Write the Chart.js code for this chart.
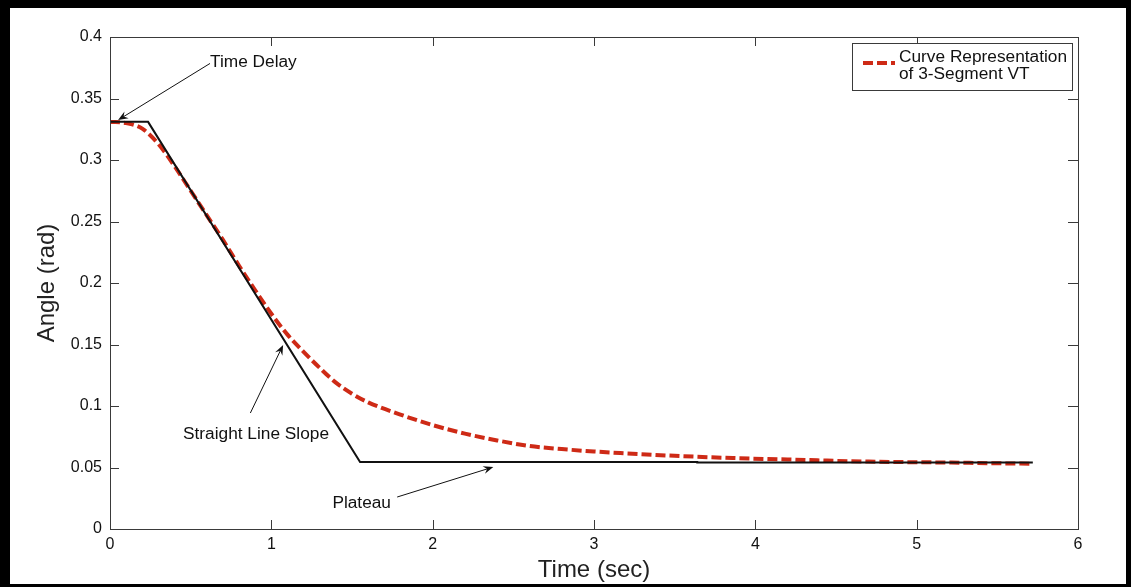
<!DOCTYPE html>
<html>
<head>
<meta charset="utf-8">
<script src="https://cdn.jsdelivr.net/npm/chart.js@4.4.1/dist/chart.umd.min.js"></script>
<style>
    html, body { margin: 0; padding: 0; background: #000; overflow: hidden; }
    #cadre { position: absolute; left: 10px; top: 8px; width: 1116px; height: 576px; background: #fff; }
    #graphique { position: absolute; left: 0; top: 0; }
</style>
</head>
<body>
<div id="cadre"></div>
<canvas id="graphique" width="1131" height="587"></canvas>
<script>
// segments de la VT (ligne noire)
const tempsSegments = [0, 0.236, 1.55, 3.64, 3.64, 5.72];
const angleSegments = [0.331, 0.331, 0.0545, 0.0545, 0.054, 0.054];

// courbe rouge en pointillés
const tempsCourbe = [0, 0.1, 0.2, 0.3, 0.4, 0.5, 0.6, 0.7, 0.8, 0.9, 1.0, 1.1, 1.2, 1.3, 1.4, 1.5, 1.6, 1.8, 2.0, 2.2, 2.4, 2.6, 2.8, 3.0, 3.2, 3.5, 3.86, 4.2, 4.7, 5.2, 5.72];
const angleCourbe = [0.331, 0.330, 0.3255, 0.313, 0.295, 0.275, 0.255, 0.235, 0.214, 0.194, 0.175, 0.158, 0.144, 0.131, 0.119, 0.110, 0.103, 0.093, 0.0845, 0.0775, 0.072, 0.0675, 0.065, 0.063, 0.0615, 0.0595, 0.0577, 0.0565, 0.0548, 0.054, 0.053];

const ticksX = [0, 1, 2, 3, 4, 5, 6];
const ticksY = [0, 0.05, 0.1, 0.15, 0.2, 0.25, 0.3, 0.35, 0.4];
const labelsY = ['0', '0.05', '0.1', '0.15', '0.2', '0.25', '0.3', '0.35', '0.4'];

const legende = ['Curve Representation', 'of 3-Segment VT'];

// annotations : texte + flèche (coordonnées en unités des axes)
const annotations = [
    { texte: 'Time Delay', tx: 0.62, ty: 0.3795, align: 'left', queue: [0.62, 0.3785], pointe: [0.05, 0.3325] },
    { texte: 'Straight Line Slope', tx: 0.905, ty: 0.0765, align: 'center', queue: [0.87, 0.0943], pointe: [1.073, 0.1496] },
    { texte: 'Plateau', tx: 1.56, ty: 0.0205, align: 'center', queue: [1.78, 0.026], pointe: [2.376, 0.0504] },
];

const rouge = 'rgb(206, 42, 22)';
const tiretRouge = [10, 4];
const couleurAxe = '#3a3a3a';
const police = { family: '"Liberation Sans", Arial, sans-serif' };

function texteEtire(ctx, texte, x, y, align) {
    const sx = 1.08;
    ctx.save();
    ctx.font = '16px "Liberation Sans", Arial, sans-serif';
    ctx.fillStyle = '#111';
    ctx.textBaseline = 'middle';
    const w = ctx.measureText(texte).width * sx;
    let x0 = x;
    if (align === 'center') x0 = x - w / 2;
    if (align === 'right') x0 = x - w;
    ctx.translate(x0, y);
    ctx.scale(sx, 1);
    ctx.textAlign = 'left';
    ctx.fillText(texte, 0, 0);
    ctx.restore();
}

function fleche(ctx, x1, y1, x2, y2) {
    const a = Math.atan2(y2 - y1, x2 - x1);
    const L = 10, l = 4;
    ctx.save();
    ctx.strokeStyle = '#111';
    ctx.fillStyle = '#111';
    ctx.lineWidth = 1;
    ctx.beginPath();
    ctx.moveTo(x1, y1);
    ctx.lineTo(x2 - Math.cos(a) * 6, y2 - Math.sin(a) * 6);
    ctx.stroke();
    ctx.translate(x2, y2);
    ctx.rotate(a);
    ctx.beginPath();
    ctx.moveTo(0, 0);
    ctx.lineTo(-L, -l);
    ctx.lineTo(-L * 0.65, 0);
    ctx.lineTo(-L, l);
    ctx.closePath();
    ctx.fill();
    ctx.restore();
}

const pluginMatlab = {
    id: 'matlab',
    afterDatasetsDraw(chart) {
        const ctx = chart.ctx;
        const { left, right, top, bottom } = chart.chartArea;
        const x = chart.scales.x;
        const y = chart.scales.y;

        // cadre + graduations vers l'intérieur
        ctx.save();
        ctx.strokeStyle = couleurAxe;
        ctx.lineWidth = 1;
        ctx.strokeRect(Math.round(left) + 0.5, Math.round(top) + 0.5, Math.round(right - left), Math.round(bottom - top));
        ctx.beginPath();
        for (const v of ticksX) {
            const px = Math.round(x.getPixelForValue(v)) + 0.5;
            ctx.moveTo(px, bottom); ctx.lineTo(px, bottom - 9);
            ctx.moveTo(px, top); ctx.lineTo(px, top + 9);
        }
        for (const v of ticksY) {
            const py = Math.round(y.getPixelForValue(v)) + 0.5;
            ctx.moveTo(left, py); ctx.lineTo(left + 9, py);
            ctx.moveTo(right, py); ctx.lineTo(right - 10, py);
        }
        ctx.stroke();
        ctx.restore();

        // annotations
        for (const an of annotations) {
            texteEtire(ctx, an.texte, x.getPixelForValue(an.tx), y.getPixelForValue(an.ty), an.align);
            fleche(ctx,
                x.getPixelForValue(an.queue[0]), y.getPixelForValue(an.queue[1]),
                x.getPixelForValue(an.pointe[0]), y.getPixelForValue(an.pointe[1]));
        }

        // légende
        ctx.save();
        ctx.fillStyle = '#fff';
        ctx.fillRect(852, 43, 220, 47);
        ctx.strokeStyle = couleurAxe;
        ctx.lineWidth = 1;
        ctx.strokeRect(852.5, 43.5, 220, 47);
        ctx.strokeStyle = rouge;
        ctx.lineWidth = 4;
        ctx.setLineDash(tiretRouge);
        ctx.beginPath();
        ctx.moveTo(863, 63);
        ctx.lineTo(895, 63);
        ctx.stroke();
        ctx.restore();
        texteEtire(ctx, legende[0], 899, 58, 'left');
        texteEtire(ctx, legende[1], 899, 75, 'left');
    }
};

new Chart(document.querySelector('#graphique'), {
    type: 'line',
    data: {
        datasets: [
            {
                label: 'VT 3 segments',
                data: tempsSegments.map((t, i) => ({ x: t, y: angleSegments[i] })),
                borderColor: '#111',
                borderWidth: 2,
                pointRadius: 0,
                tension: 0,
            },
            {
                label: legende.join(' '),
                data: tempsCourbe.map((t, i) => ({ x: t, y: angleCourbe[i] })),
                borderColor: rouge,
                borderWidth: 4,
                borderDash: tiretRouge,
                pointRadius: 0,
                cubicInterpolationMode: 'monotone',
            },
        ],
    },
    options: {
        responsive: false,
        animation: false,
        layout: { padding: { left: 0, top: 37, right: 53, bottom: 0 } },
        plugins: {
            legend: { display: false },
            tooltip: { enabled: false },
        },
        scales: {
            x: {
                type: 'linear',
                min: 0,
                max: 6,
                afterFit: (s) => { s.height = 58; },
                afterBuildTicks: (s) => { s.ticks = ticksX.map((v) => ({ value: v })); },
                grid: { display: false, drawTicks: false },
                border: { display: false },
                ticks: {
                    padding: 6,
                    color: '#111',
                    font: { ...police, size: 16 },
                    maxRotation: 0,
                    callback: (v) => String(v),
                },
                title: {
                    display: true,
                    text: 'Time (sec)',
                    color: '#222',
                    font: { ...police, size: 24, lineHeight: 1 },
                    padding: { top: 0, bottom: 5 },
                },
            },
            y: {
                min: 0,
                max: 0.4,
                afterFit: (s) => { s.width = 110; },
                afterBuildTicks: (s) => { s.ticks = ticksY.map((v) => ({ value: v })); },
                grid: { display: false, drawTicks: false },
                border: { display: false },
                ticks: {
                    padding: 8,
                    color: '#111',
                    font: { ...police, size: 16 },
                    callback: (v, i) => labelsY[i],
                },
                title: {
                    display: true,
                    text: 'Angle (rad)',
                    color: '#222',
                    font: { ...police, size: 24, lineHeight: 1 },
                    padding: { top: 35, bottom: 0 },
                },
            },
        },
    },
    plugins: [pluginMatlab],
});
</script>
</body>
</html>
